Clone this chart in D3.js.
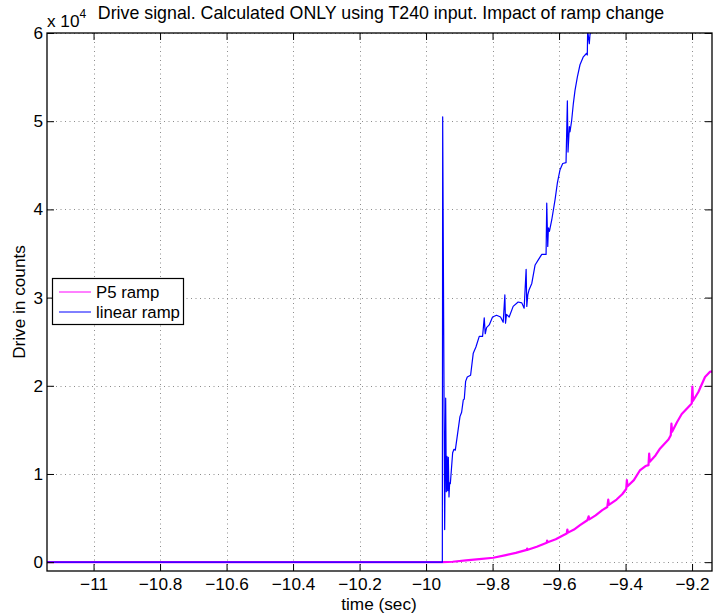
<!DOCTYPE html>
<html>
<head>
<meta charset="utf-8">
<script src="https://cdn.jsdelivr.net/npm/d3@7"></script>
<style>
  html, body { margin: 0; padding: 0; background: #fff; }
  svg { display: block; font-family: "Liberation Sans", Arial, Helvetica, sans-serif; }
</style>
</head>
<body>
<svg id="chart" width="714" height="615"></svg>
<script>
// Drive signal traces: [time (sec), drive (counts)]
const linearRamp = [
  [-11.14, 0], [-9.951, 0], [-9.950, 50500], [-9.944, 3700], [-9.941, 18600],
  [-9.939, 8000], [-9.937, 12000], [-9.935, 8100], [-9.933, 11900], [-9.931, 7400],
  [-9.929, 9000], [-9.927, 8900], [-9.920, 12400], [-9.916, 12800], [-9.912, 12700],
  [-9.898, 16500], [-9.893, 17000], [-9.888, 18400], [-9.885, 18500], [-9.881, 20500],
  [-9.876, 21000], [-9.866, 21200], [-9.858, 23700], [-9.850, 24400], [-9.840, 25600],
  [-9.830, 25600], [-9.825, 27700], [-9.822, 25900], [-9.818, 26600], [-9.810, 26900],
  [-9.800, 27800], [-9.788, 28000], [-9.776, 27800], [-9.768, 27200], [-9.763, 30300],
  [-9.761, 27100], [-9.758, 28100], [-9.750, 27800], [-9.738, 29000], [-9.723, 29500],
  [-9.712, 29400], [-9.705, 28800], [-9.699, 33200], [-9.697, 29000], [-9.694, 30300],
  [-9.690, 30900], [-9.682, 31600], [-9.672, 33700], [-9.662, 34300], [-9.652, 34900],
  [-9.639, 34900], [-9.637, 40700], [-9.634, 35800], [-9.632, 37900], [-9.629, 37500],
  [-9.622, 38800], [-9.612, 41100], [-9.605, 43000], [-9.597, 44500], [-9.589, 45200],
  [-9.579, 45300], [-9.575, 52300], [-9.573, 46500], [-9.569, 49400], [-9.567, 48800],
  [-9.562, 50100], [-9.557, 52000], [-9.552, 53500], [-9.545, 55000], [-9.537, 56400],
  [-9.527, 57300], [-9.517, 57700], [-9.515, 57500], [-9.514, 60300], [-9.509, 58800],
  [-9.507, 59800], [-9.498, 60900]
];

const p5Ramp = [
  [-11.14, 0], [-9.951, 0], [-9.920, 50], [-9.880, 200], [-9.840, 350], [-9.798, 500],
  [-9.760, 800], [-9.730, 1050], [-9.697, 1400], [-9.696, 1550], [-9.694, 1400],
  [-9.667, 1750], [-9.637, 2200], [-9.636, 2450], [-9.634, 2250], [-9.610, 2600],
  [-9.590, 3000], [-9.577, 3250], [-9.575, 3700], [-9.573, 3350], [-9.555, 3700],
  [-9.537, 4200], [-9.515, 4750], [-9.511, 5200], [-9.509, 4850], [-9.490, 5300],
  [-9.470, 5900], [-9.455, 6250], [-9.452, 7100], [-9.450, 6500], [-9.427, 7100],
  [-9.410, 7700], [-9.398, 8300], [-9.396, 9300], [-9.394, 8600], [-9.375, 9300],
  [-9.357, 10400], [-9.340, 10900], [-9.331, 11000], [-9.329, 12300], [-9.327, 11400],
  [-9.310, 12100], [-9.296, 12900], [-9.271, 13900], [-9.264, 14400], [-9.262, 15700],
  [-9.260, 14800], [-9.245, 15900], [-9.231, 16800], [-9.211, 17600], [-9.201, 18000],
  [-9.199, 19900], [-9.197, 18300], [-9.181, 19300], [-9.161, 21000], [-9.146, 21600],
  [-9.140, 21600]
];

const xTicks = [-11, -10.8, -10.6, -10.4, -10.2, -10, -9.8, -9.6, -9.4, -9.2];
const yTicks = [0, 10000, 20000, 30000, 40000, 50000, 60000];
const seriesNames = ["P5 ramp", "linear ramp"];
const seriesColors = ["#ff00ff", "#0000ff"];
const titleText = "Drive signal. Calculated ONLY using T240 input. Impact of ramp change";
const xLabel = "time (sec)";
const yLabel = "Drive in counts";

const svg = d3.select("#chart");
const plotLeft = 47, plotTop = 33, plotRight = 712, plotBottom = 571;
const fontSize = 17.2;

const x = d3.scaleLinear().domain([-11.14, -9.14]).range([plotLeft, plotRight]);
const y = d3.scaleLinear().domain([-1000, 60000]).range([plotBottom, plotTop]);

svg.append("defs").append("clipPath").attr("id", "plotClip")
  .append("rect").attr("x", plotLeft).attr("y", plotTop)
  .attr("width", plotRight - plotLeft).attr("height", plotBottom - plotTop);

// grid
const grid = svg.append("g").attr("stroke", "#8c8c8c").attr("stroke-width", 1)
  .attr("stroke-dasharray", "1,3.5");
grid.selectAll("line.gx").data(xTicks).join("line")
  .attr("x1", d => Math.round(x(d)) + 0.5).attr("x2", d => Math.round(x(d)) + 0.5)
  .attr("y1", plotTop).attr("y2", plotBottom);
grid.selectAll("line.gy").data(yTicks).join("line")
  .attr("y1", d => Math.round(y(d)) + 0.5).attr("y2", d => Math.round(y(d)) + 0.5)
  .attr("x1", plotLeft).attr("x2", plotRight);

// traces
const line = d3.line().x(d => x(d[0])).y(d => y(d[1]));
const plot = svg.append("g").attr("clip-path", "url(#plotClip)");
plot.append("path").datum(p5Ramp).attr("d", line)
  .attr("fill", "none").attr("stroke", seriesColors[0]).attr("stroke-width", 2.2)
  .attr("stroke-linejoin", "round");
plot.append("path").datum(linearRamp).attr("d", line)
  .attr("fill", "none").attr("stroke", seriesColors[1]).attr("stroke-width", 1.2)
  .attr("stroke-linejoin", "round");

// axes (ticks inside, on all four sides)
const fmtX = d3.format("~g");
const fmtY = d => d3.format("~g")(d / 1e4);
const tickLen = 7;

const xAxisB = d3.axisBottom(x).tickValues(xTicks).tickSizeInner(-tickLen).tickSizeOuter(0)
  .tickPadding(7).tickFormat(fmtX);
const xAxisT = d3.axisTop(x).tickValues(xTicks).tickSizeInner(-tickLen).tickSizeOuter(0)
  .tickFormat("");
const yAxisL = d3.axisLeft(y).tickValues(yTicks).tickSizeInner(-tickLen).tickSizeOuter(0)
  .tickPadding(4).tickFormat(fmtY);
const yAxisR = d3.axisRight(y).tickValues(yTicks).tickSizeInner(-tickLen).tickSizeOuter(0)
  .tickFormat("");

function styleAxis(g) {
  g.select(".domain").remove();
  g.selectAll(".tick line").attr("stroke", "#000");
  g.selectAll(".tick text").attr("fill", "#000").attr("font-size", fontSize)
    .attr("font-family", "\"Liberation Sans\", Arial, Helvetica, sans-serif");
}
svg.append("g").attr("transform", `translate(0,${plotBottom})`).call(xAxisB).call(styleAxis);
svg.append("g").attr("transform", `translate(0,${plotTop})`).call(xAxisT).call(styleAxis);
svg.append("g").attr("transform", `translate(${plotLeft},0)`).call(yAxisL).call(styleAxis);
svg.append("g").attr("transform", `translate(${plotRight},0)`).call(yAxisR).call(styleAxis);

// frame
svg.append("rect").attr("x", plotLeft).attr("y", plotTop)
  .attr("width", plotRight - plotLeft).attr("height", plotBottom - plotTop)
  .attr("fill", "none").attr("stroke", "#000").attr("stroke-width", 1.3);

// exponent label
const expo = svg.append("text").attr("x", plotLeft).attr("y", 27)
  .attr("font-size", fontSize).attr("fill", "#000");
expo.append("tspan").text("x 10");
expo.append("tspan").attr("dy", -9).attr("font-size", 12).text("4");

// title and axis labels
svg.append("text").attr("x", 381).attr("y", 19)
  .attr("text-anchor", "middle").attr("font-size", 17.8).attr("fill", "#000")
  .text(titleText);
svg.append("text").attr("x", 379).attr("y", 610)
  .attr("text-anchor", "middle").attr("font-size", fontSize).attr("fill", "#000")
  .text(xLabel);
svg.append("text").attr("transform", `translate(25,${(plotTop + plotBottom) / 2}) rotate(-90)`)
  .attr("text-anchor", "middle").attr("font-size", fontSize).attr("fill", "#000")
  .text(yLabel);

// legend
const lg = svg.append("g");
lg.append("rect").attr("x", 52.5).attr("y", 278.5).attr("width", 131).attr("height", 46)
  .attr("fill", "#fff").attr("stroke", "#000").attr("stroke-width", 1.2);
seriesNames.forEach((name, i) => {
  const yy = 292 + i * 20;
  lg.append("line").attr("x1", 59).attr("x2", 91).attr("y1", yy).attr("y2", yy)
    .attr("stroke", seriesColors[i]).attr("stroke-width", 1);
  lg.append("text").attr("x", 96).attr("y", yy + 6).attr("font-size", 16.8)
    .attr("fill", "#000").text(name);
});
</script>
</body>
</html>
